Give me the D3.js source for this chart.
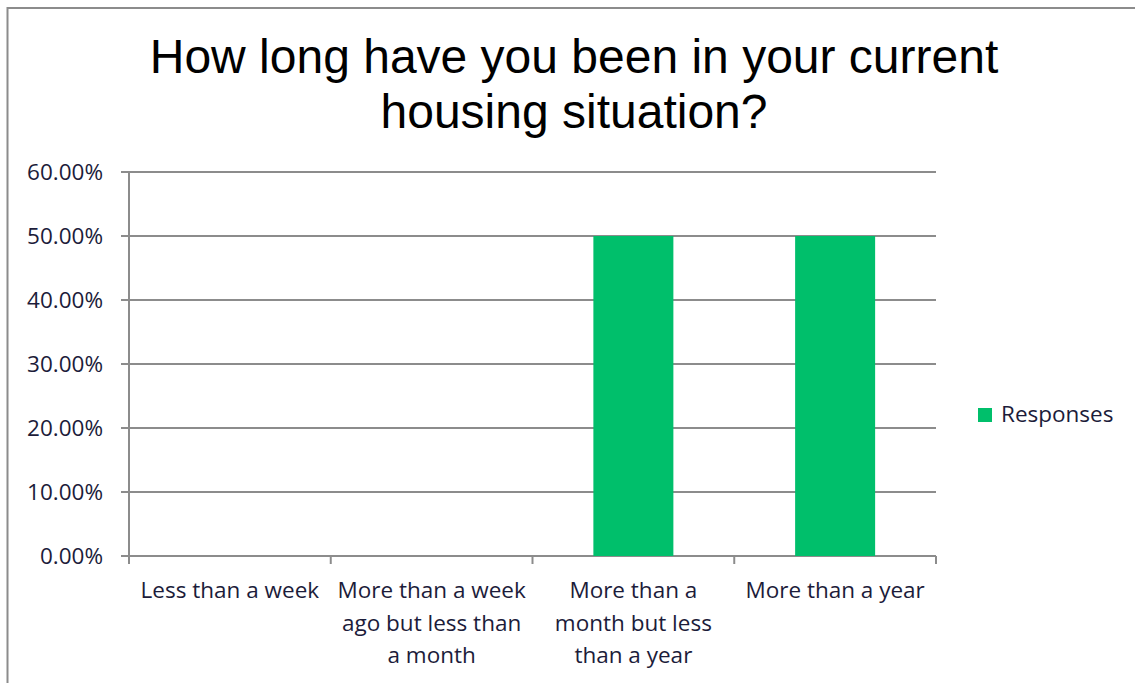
<!DOCTYPE html>
<html>
<head>
<meta charset="utf-8">
<script src="https://cdn.jsdelivr.net/npm/d3@7"></script>
<style>
  html, body { margin: 0; padding: 0; background: #fff; }
  svg { display: block; }
</style>
</head>
<body>
<svg id="chart" width="1135" height="683"></svg>
<script>
// Survey answers and their share of responses
const categories = [
  ["Less than a week"],
  ["More than a week", "ago but less than", "a month"],
  ["More than a", "month but less", "than a year"],
  ["More than a year"]
];
const responses = [0, 0, 0.5, 0.5];
const yTicks = [0, 0.1, 0.2, 0.3, 0.4, 0.5, 0.6];
const titleLines = ["How long have you been in your current", "housing situation?"];
const seriesName = "Responses";

const svg = d3.select("#chart");
const W = 1135, H = 683;
const textColor = "#1c1c3a";
const gridColor = "#8c8c8c";
const barColor = "#00bf6b";
const labelFont = "'Open Sans', Lato, sans-serif";
const labelSize = 22.5;

// outer chart frame
svg.append("rect")
  .attr("x", 7.5).attr("y", 8).attr("width", W + 20).attr("height", H + 20)
  .attr("fill", "#fff").attr("stroke", gridColor).attr("stroke-width", 2);

// title
svg.append("g").selectAll("text").data(titleLines).join("text")
  .attr("x", 574).attr("y", (d, i) => 73 + i * 55)
  .attr("text-anchor", "middle")
  .attr("font-family", "'Liberation Sans', Arial, sans-serif")
  .attr("font-size", 48)
  .attr("fill", "#000")
  .text(d => d);

const x = d3.scaleBand().domain(d3.range(categories.length)).range([129, 936]).paddingInner(0).paddingOuter(0);
const y = d3.scaleLinear().domain([0, 0.6]).range([556, 172]);

// horizontal gridlines with left tick marks
svg.append("g").selectAll("line").data(yTicks).join("line")
  .attr("x1", 121).attr("x2", 936)
  .attr("y1", d => y(d)).attr("y2", d => y(d))
  .attr("stroke", gridColor).attr("stroke-width", 2);

// bars
const bw = 80;
svg.append("g").selectAll("rect").data(responses).join("rect")
  .attr("x", (d, i) => x(i) + x.bandwidth() / 2 - bw / 2)
  .attr("width", bw)
  .attr("y", d => y(d))
  .attr("height", d => y(0) - y(d))
  .attr("fill", barColor);

// y axis line
svg.append("line")
  .attr("x1", 129).attr("x2", 129).attr("y1", y(0.6)).attr("y2", y(0) + 8)
  .attr("stroke", gridColor).attr("stroke-width", 2);

// category boundary ticks
svg.append("g").selectAll("line").data(d3.range(categories.length + 1)).join("line")
  .attr("x1", i => 129 + i * x.bandwidth()).attr("x2", i => 129 + i * x.bandwidth())
  .attr("y1", y(0)).attr("y2", y(0) + 8)
  .attr("stroke", gridColor).attr("stroke-width", 2);

// y tick labels
svg.append("g").selectAll("text").data(yTicks).join("text")
  .attr("x", 103).attr("y", d => y(d) + 8)
  .attr("text-anchor", "end")
  .attr("font-family", labelFont).attr("font-size", labelSize)
  .attr("fill", textColor)
  .text(d3.format(".2%"));

// category labels
const catG = svg.append("g").selectAll("text").data(categories).join("text")
  .attr("text-anchor", "middle")
  .attr("font-family", labelFont).attr("font-size", labelSize)
  .attr("fill", textColor);
catG.selectAll("tspan").data((d, i) => d.map(s => ({ s, i }))).join("tspan")
  .attr("x", d => x(d.i) + x.bandwidth() / 2)
  .attr("y", (d, j) => 598 + j * 32.5)
  .text(d => d.s);

// legend
svg.append("rect").attr("x", 978).attr("y", 408).attr("width", 14).attr("height", 14).attr("fill", barColor);
svg.append("text").attr("x", 1001).attr("y", 422)
  .attr("font-family", labelFont).attr("font-size", labelSize)
  .attr("fill", textColor).text(seriesName);
</script>
</body>
</html>
